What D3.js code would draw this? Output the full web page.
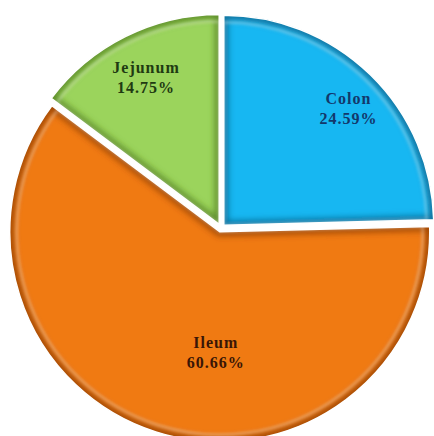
<!DOCTYPE html>
<html><head><meta charset="utf-8">
<script src="https://cdn.jsdelivr.net/npm/d3@7/dist/d3.min.js"></script>
<style>body{margin:0;background:#fff}svg{display:block}</style>
</head><body>
<script>
const categories = ["Colon", "Ileum", "Jejunum"];
const values = [24.59, 60.66, 14.75];
const labels = ["24.59%", "60.66%", "14.75%"];
const colors = ["#17b7f2", "#f07a12", "#9bd45c"];
const darkColors = ["#0b5f86", "#8a3a05", "#4d7a1e"];
const textColors = ["#13386b", "#3a1606", "#1f3a12"];

const W = 434, H = 436;
const cx = 221, cy = 228, R = 210, explode = 4;
const svg = d3.select("body").append("svg").attr("width", W).attr("height", H);
const defs = svg.append("defs");
const f = defs.append("filter").attr("id","blur").attr("x","-20%").attr("y","-20%").attr("width","140%").attr("height","140%");
f.append("feGaussianBlur").attr("stdDeviation", 3);
const f2 = defs.append("filter").attr("id","blur2").attr("x","-20%").attr("y","-20%").attr("width","140%").attr("height","140%");
f2.append("feGaussianBlur").attr("stdDeviation", 1.5);

const pie = d3.pie().sort(null).value(d => d)(values);
const arc = d3.arc().innerRadius(0).outerRadius(R);
const labelR = [0.82, 0.62, 0.78];
const labelNudge = [[4.5, 7], [35.6, -3], [0, 0]];

const g = svg.append("g").attr("transform", `translate(${cx},${cy})`);
pie.forEach((p, i) => {
  const mid = (p.startAngle + p.endAngle) / 2;
  const ox = Math.sin(mid) * explode, oy = -Math.cos(mid) * explode;
  const sg = g.append("g").attr("transform", `translate(${ox},${oy})`);
  const d = arc(p);
  defs.append("clipPath").attr("id", "clip" + i).append("path").attr("d", d);
  sg.append("path").attr("d", d).attr("fill", colors[i]);
  const cl = sg.append("g").attr("clip-path", `url(#clip${i})`);
  cl.append("path").attr("d", d).attr("fill", "none").attr("stroke", darkColors[i])
    .attr("stroke-width", 9).attr("stroke-opacity", 0.75).attr("filter", "url(#blur)");
  cl.append("path").attr("d", d3.arc().innerRadius(0).outerRadius(R - 7)(p))
    .attr("fill", "none").attr("stroke", "#ffffff").attr("stroke-width", 2.5)
    .attr("stroke-opacity", 0.35).attr("filter", "url(#blur2)");
  sg.append("path").attr("d", d).attr("fill", "none").attr("stroke", "#ffffff").attr("stroke-width", 1.5);

  const la = d3.arc().innerRadius(R * labelR[i]).outerRadius(R * labelR[i]);
  const [lx0, ly0] = la.centroid(p);
  const lx = lx0 + labelNudge[i][0], ly = ly0 + labelNudge[i][1];
  const t = sg.append("text").attr("x", lx).attr("y", ly)
    .attr("text-anchor", "middle").attr("font-family", "Liberation Serif, Times New Roman, serif")
    .attr("font-weight", "bold").attr("font-size", 16).attr("letter-spacing", 1)
    .attr("fill", textColors[i]);
  t.append("tspan").attr("x", lx).attr("dy", -4.5).text(categories[i]);
  t.append("tspan").attr("x", lx).attr("dy", 20).text(labels[i]);
});
</script>
</body></html>
